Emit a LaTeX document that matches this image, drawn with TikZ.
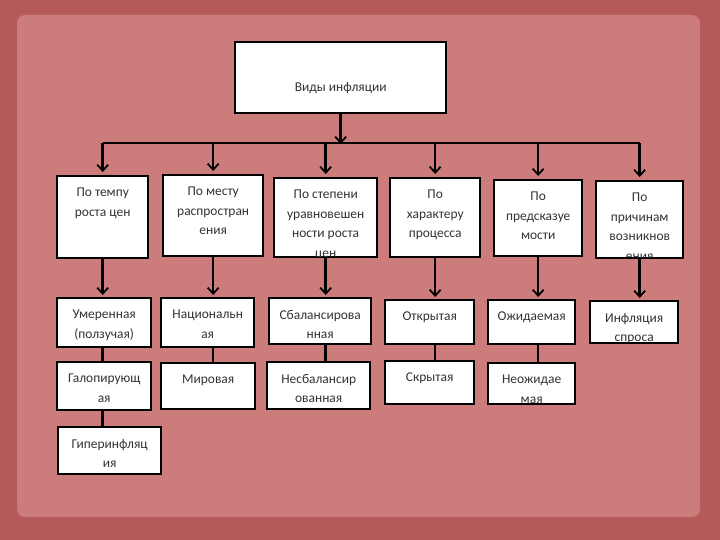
\documentclass[tikz,border=0pt]{standalone}
\usepackage{fontspec}
\setmainfont{Carlito}
\usetikzlibrary{arrows.meta}
\definecolor{framered}{HTML}{B5595A}
\definecolor{panelpink}{HTML}{CC7D7B}
\definecolor{inkgray}{HTML}{333333}

\begin{document}
\begin{tikzpicture}[
    x=1bp, y=-1bp,
    >={Straight Barb[length=6pt, width=11pt, line width=1.8pt]},
    cell/.style={draw=black, line width=2.4pt, fill=white, anchor=north west, inner sep=0pt},
    celltext/.style={anchor=north, align=center, inner sep=0pt,
      font=\fontsize{13.5}{19.5}\selectfont, text=inkgray},
    link/.style={draw=black, line width=2.6pt},
    bus/.style={draw=black, line width=1.8pt},
  ]
  % backdrop
  \useasboundingbox (0,0) rectangle (720,540);
  \fill[framered] (0,0) rectangle (720,540);
  \fill[panelpink, rounded corners=8] (17,15) rectangle (700,517);

  % head
  \node[cell, minimum width=211bp, minimum height=71bp] (kinds) at (234,41) {};
  \node[celltext] (kinds-txt) at ([yshift=-41bp]kinds.north) {Виды инфляции};

  % boxes: name/left/top/width/height/text
  \foreach \n/\x/\y/\w/\h/\txt in {
      t1/56/175/91/82/{По темпу\\роста цен},
      t2/162/174/100/81/{По месту\\распростран\\ения},
      t3/273/177/103/79/{По степени\\уравновешен\\ности роста\\цен},
      t4/389/177/90/79/{По\\характеру\\процесса},
      t5/493/179/88/76/{По\\предсказуе\\мости},
      t6/595/180/87/77/{По\\причинам\\возникнов\\ения},
      a1/56/297/94/49/{Умеренная\\(ползучая)},
      a2/160/297/93/49/{Национальн\\ая},
      a3/268/297/102/46/{Сбалансирова\\нная},
      a4/384/299/89/44/{Открытая},
      a5/487/299/87/44/{Ожидаемая},
      a6/589/300/88/42/{Инфляция\\спроса},
      b1/56/361/94/48/{Галопирующ\\ая},
      b2/160/362/94/46/{Мировая},
      b3/266/361/103/47/{Несбалансир\\ованная},
      b4/384/360/89/43/{Скрытая},
      b5/487/362/87/41/{Неожидае\\мая},
      c1/57/426/103/47/{Гиперинфляц\\ия}} {
    \node[cell, minimum width=\w bp, minimum height=\h bp] (\n) at (\x,\y) {};
    \begin{scope}
      \clip ([shift={(1.5,1.5)}]\n.north west) rectangle ([shift={(-1.5,-1.5)}]\n.south east);
      \node[celltext] (\n-txt) at ([yshift=-13bp]\n.north) {\txt};
    \end{scope}
  }

  % connectors
  \coordinate (bus) at (0,143);
  \draw[link, ->] (kinds) -- ([yshift=-1bp]kinds |- bus);
  \draw[bus] (t1 |- bus) -- (t6 |- bus);
  \foreach \n in {t1,t2,t3,t4,t5,t6}
    \draw[link, ->] (\n |- bus) -- ([yshift=3bp]\n.north);
  \foreach \i in {1,...,6}
    \draw[link, ->] (t\i) -- ([yshift=2bp]t\i |- a\i.north);
  \foreach \i in {1,...,5}
    \draw[link] (a\i.south -| t\i) -- (b\i.north -| t\i);
  \draw[link] (b1.south -| t1) -- (c1.north -| t1);
\end{tikzpicture}
\end{document}
